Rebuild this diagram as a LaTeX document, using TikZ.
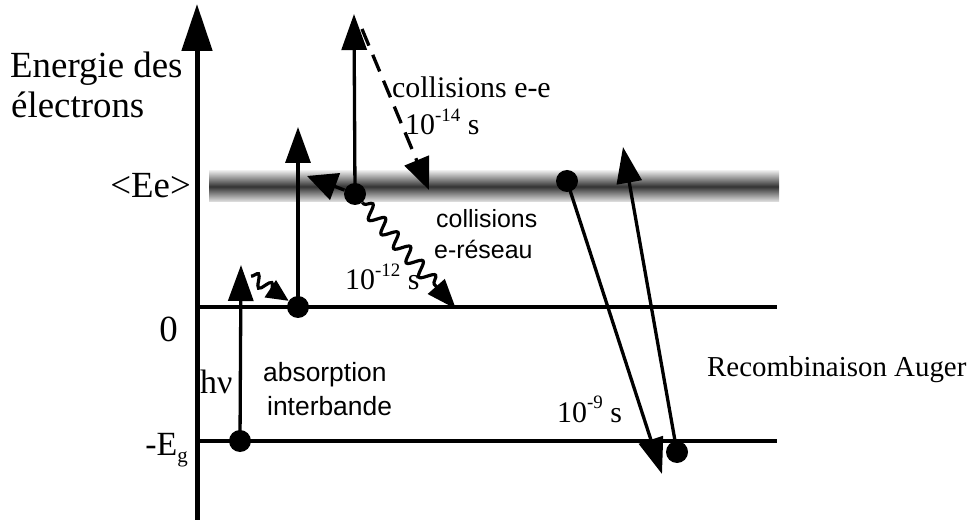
\documentclass[tikz,border=0pt]{standalone}
\usepackage{fontspec}
\setmainfont{Liberation Serif}
\setsansfont{Liberation Sans}
\usetikzlibrary{arrows.meta,decorations.pathmorphing}
\begin{document}
\begin{tikzpicture}[x=1bp,y=-1bp,
  dot/.style={circle,fill=black,inner sep=0pt,minimum size=22bp},
  arr/.style={line width=3.3bp,-{Triangle[length=36bp,width=25bp]}},
  level/.style={line width=3.3bp},
  big/.style={inner sep=0pt,font=\fontsize{37}{42}\selectfont},
  mid/.style={inner sep=0pt,font=\fontsize{30}{34}\selectfont},
  sans/.style={inner sep=0pt,font=\sffamily\fontsize{25}{30}\selectfont},
  wave/.style={line width=3.2bp,decorate}]
\useasboundingbox (0,0) rectangle (969,520);
% band <Ee>
\shade[top color=black!10,bottom color=black!10,middle color=black!80] (209,171) rectangle (779,202);
% axis
\coordinate (ax0) at (197,520);
\coordinate (ax1) at (197,4);
\draw[line width=5bp,-{Triangle[length=47bp,width=30bp]}] (ax0) -- (ax1);
% levels
\coordinate (z0) at (197,307);
\coordinate (z1) at (777,307);
\coordinate (g0) at (197,441);
\coordinate (g1) at (777,441);
\draw[level] (z0) -- (z1);
\draw[level] (g0) -- (g1);
% dots
\node[dot] (A) at (240,441) {};
\node[dot] (B) at (298,307) {};
\node[dot] (C) at (355,194) {};
\node[dot] (D) at (567,181) {};
\node[dot] (E) at (677,452) {};
% tips
\coordinate (tA) at (241,265);
\coordinate (tB) at (298,127);
\coordinate (tC) at (354,14);
\coordinate (tS) at (307,176);
\coordinate (tD) at (662,474);
\coordinate (tE) at (623,147);
\coordinate (dS) at (362,29);
\coordinate (tDash) at (429,190);
\coordinate (tW) at (456,309);
\coordinate (w2s) at (251,276);
% arrows
\draw[arr] (A.center) -- (tA);
\draw[arr] (B.center) -- (tB);
\draw[arr] (C.center) -- (tC);
\draw[arr,-{Triangle[length=30bp,width=28bp]}] (C) -- (tS);
\draw[arr] (D.center) -- (tD);
\draw[arr] (E.center) -- (tE);
\draw[arr,dash pattern=on 18bp off 10bp,-{Triangle[length=32bp,width=26bp]}] (dS) -- (tDash);
\draw[wave,decoration={snake,amplitude=7bp,segment length=19bp,pre length=2bp,post length=30bp},-{Triangle[length=30bp,width=22bp]}] (C) -- (tW);
\draw[wave,decoration={snake,amplitude=6bp,segment length=16bp,post length=18bp},-{Triangle[length=22bp,width=20bp]}] (w2s) -- (B);
% labels
\node[big,anchor=base west] (l1) at (10,78) {Energie des};
\node[big,anchor=base west] (l2) at (11,118) {électrons};
\node[big,anchor=base east] (l3) at (191,198) {<Ee>};
\node[big,anchor=base east] (l4) at (178,342) {0};
\node[big,anchor=base east,font=\fontsize{34}{40}\selectfont] (l5) at (188,455) {-E\raisebox{-0.22em}{\fontsize{21}{21}\selectfont g}};
\node[big,anchor=base west,font=\fontsize{34}{38}\selectfont] (l6) at (200,393) {hν};
\node[sans,anchor=base west,font=\sffamily\fontsize{26.5}{30}\selectfont] (l7) at (263,382) {absorption};
\node[sans,anchor=base west,font=\sffamily\fontsize{26.5}{30}\selectfont] (l8) at (267,415) {interbande};
\node[mid,anchor=base west] (l9) at (392,98) {collisions e-e};
\node[mid,anchor=base west] (l10) at (405,135) {10\raisebox{0.45em}{\fontsize{19}{19}\selectfont -14} s};
\node[sans,anchor=base west] (l11) at (436,228) {collisions};
\node[sans,anchor=base west] (l12) at (434,259) {e-réseau};
\node[mid,anchor=base west] (l13) at (345,290) {10\raisebox{0.45em}{\fontsize{19}{19}\selectfont -12} s};
\node[mid,anchor=base west] (l14) at (557,422) {10\raisebox{0.45em}{\fontsize{19}{19}\selectfont -9} s};
\node[mid,anchor=base west,font=\fontsize{29}{34}\selectfont] (l15) at (707,377) {Recombinaison Auger};
\end{tikzpicture}
\end{document}
